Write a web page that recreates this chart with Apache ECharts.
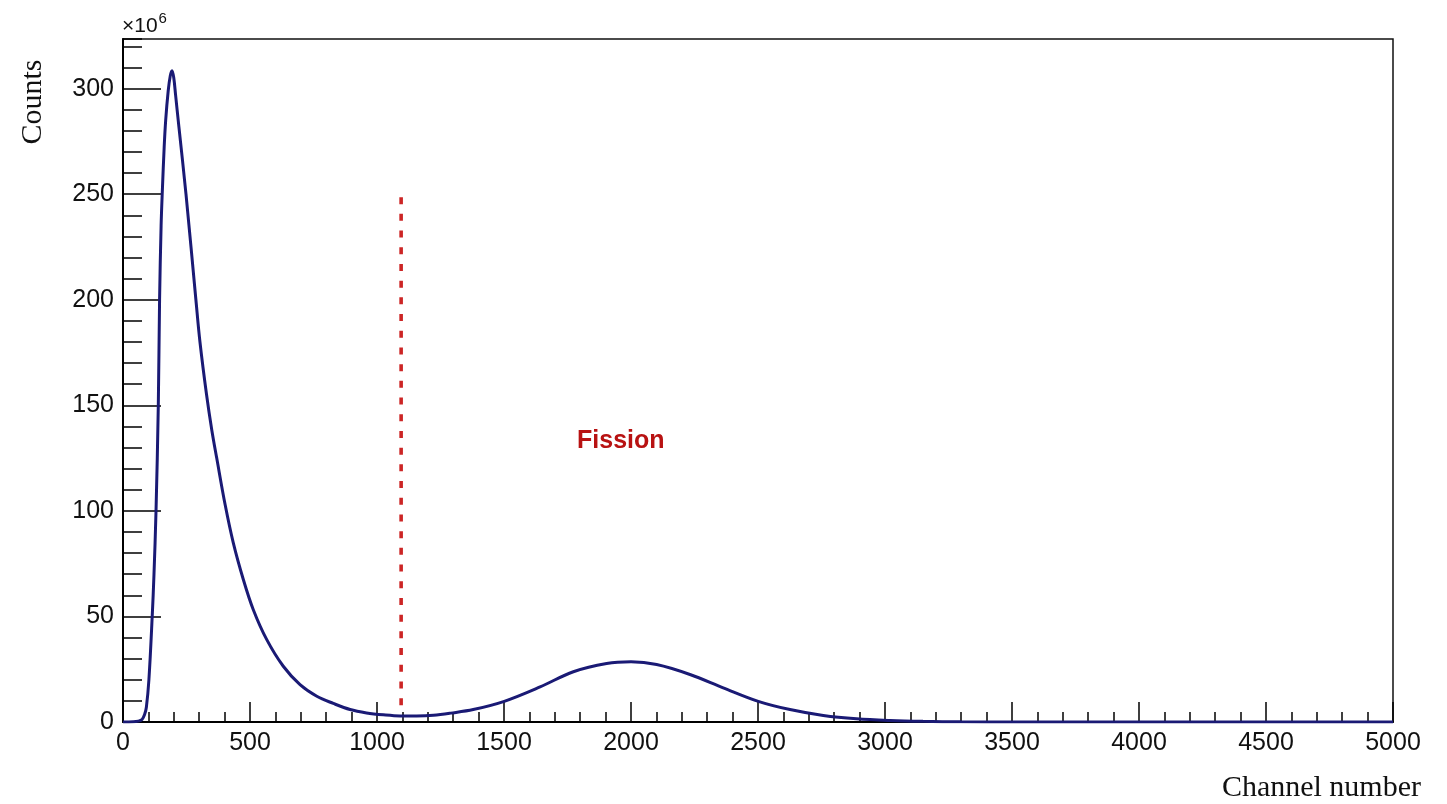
<!DOCTYPE html>
<html>
<head>
<meta charset="utf-8">
<script src="https://cdn.jsdelivr.net/npm/echarts@6/dist/echarts.min.js"></script>
<style>
html,body{margin:0;padding:0;background:#fff;}
#chart{width:1447px;height:804px;}
</style>
</head>
<body>
<div id="chart"></div>
<script>
// Channel numbers and counts (x10^6)
const channels = [0, 40, 60, 75, 85, 92, 102, 115, 122, 130, 139, 144, 150, 155, 162, 168, 178, 186, 193, 200, 207, 220, 248, 287, 303, 329, 350, 369, 402, 434, 474, 513, 566, 631, 697, 763, 828, 894, 959, 1025, 1091, 1156, 1222, 1290, 1379, 1501, 1642, 1773, 1904, 2000, 2101, 2232, 2363, 2501, 2626, 2757, 2888, 3020, 3150, 3300, 3500, 4000, 5000];
const counts = [0, 0.1, 0.4, 1.2, 3.5, 7, 20, 50, 70, 100, 150, 200, 235, 252, 272, 285, 299, 306, 308.5, 305, 297, 282, 250, 200, 180, 155, 138, 125, 103, 85, 67.4, 53.2, 39, 26.4, 17.7, 12.2, 8.8, 5.9, 4.3, 3.4, 2.9, 2.9, 3.2, 4.2, 5.9, 9.8, 16.6, 23.8, 27.7, 28.5, 27.2, 22.5, 16.2, 9.8, 5.9, 3.1, 1.5, 0.7, 0.3, 0.1, 0.03, 0, 0];
// Fission cut line (channel) and its vertical extent
const cutChannel = [1095, 1095];
const cutCounts = [248.6, 4.5];
// Annotation
const fissionLabel = {text: 'Fission', x: 1960, y: 133};
// Axis settings
const xTicks = {min: 0, max: 5000, interval: 500};
const yTicks = {min: 0, max: 323.5, interval: 50, minor: 10};

const curve = channels.map((c, i) => [c, counts[i]]);
const cut = cutChannel.map((c, i) => [c, cutCounts[i]]);

const chart = echarts.init(document.getElementById('chart'), null, {renderer: 'canvas'});
const black = '#000';
const sans = 'Liberation Sans, Arial, sans-serif';
const serif = 'Liberation Serif, Times New Roman, serif';

chart.setOption({
  animation: false,
  backgroundColor: '#fff',
  grid: {left: 123, right: 54, top: 39, bottom: 82, show: true, borderColor: '#111', borderWidth: 1.5, backgroundColor: 'transparent'},
  xAxis: {
    type: 'value', min: xTicks.min, max: xTicks.max, interval: xTicks.interval,
    axisLine: {show: true, lineStyle: {color: black, width: 2}},
    axisTick: {show: true, inside: true, length: 20, lineStyle: {color: black, width: 1.5}},
    minorTick: {show: true, splitNumber: 5, length: 10, lineStyle: {color: black, width: 1.5}},
    splitLine: {show: false}, minorSplitLine: {show: false},
    axisLabel: {fontSize: 25, color: '#111', fontFamily: sans, margin: 9, showMaxLabel: true, showMinLabel: true,
      formatter: v => String(v)}
  },
  yAxis: [{
    type: 'value', position: 'left', min: yTicks.min, max: yTicks.max, interval: yTicks.interval,
    axisLine: {show: true, lineStyle: {color: black, width: 2}},
    axisTick: {show: true, inside: true, length: 38, lineStyle: {color: black, width: 1.5}},
    splitLine: {show: false},
    axisLabel: {fontSize: 25, color: '#111', fontFamily: sans, margin: 9, showMaxLabel: false,
      formatter: v => (Math.abs(v % yTicks.interval) < 1e-9 ? String(v) : '')}
  }, {
    type: 'value', position: 'left', offset: 0, min: yTicks.min, max: yTicks.max, interval: yTicks.minor,
    axisLine: {show: false},
    axisTick: {show: true, inside: true, length: 19, lineStyle: {color: black, width: 1.5}},
    splitLine: {show: false},
    axisLabel: {show: false}
  }],
  series: [{
    type: 'line', data: curve, showSymbol: false, smooth: 0.35,
    lineStyle: {color: '#1a1a75', width: 3}, z: 3
  }, {
    type: 'line', data: cut, showSymbol: false,
    lineStyle: {color: '#cc2525', width: 3.6, type: [7, 9.7]}, z: 2
  }, {
    type: 'scatter', data: [[fissionLabel.x, fissionLabel.y]], symbolSize: 0,
    itemStyle: {opacity: 1},
    label: {show: true, position: 'inside', formatter: fissionLabel.text, color: '#b81212', fontSize: 25, fontWeight: 'bold', fontFamily: sans, opacity: 1}
  }],
  graphic: [{
    type: 'text', left: 122, top: 11,
    style: {text: '{a|×10}{b|6}', rich: {
      a: {fontSize: 21, fontFamily: sans, fill: '#111', verticalAlign: 'bottom', lineHeight: 26},
      b: {fontSize: 15, fontFamily: sans, fill: '#111', verticalAlign: 'top', lineHeight: 26, padding: [0, 0, 11, 1]}
    }}
  }, {
    type: 'text', x: 33, y: 102, rotation: Math.PI / 2,
    style: {text: 'Counts', fontSize: 30, fontFamily: serif, fill: '#111', align: 'center', verticalAlign: 'middle'}
  }, {
    type: 'text', x: 1421, y: 788,
    style: {text: 'Channel number', fontSize: 30, fontFamily: serif, fill: '#111', align: 'right', verticalAlign: 'middle'}
  }]
});
</script>
</body>
</html>
